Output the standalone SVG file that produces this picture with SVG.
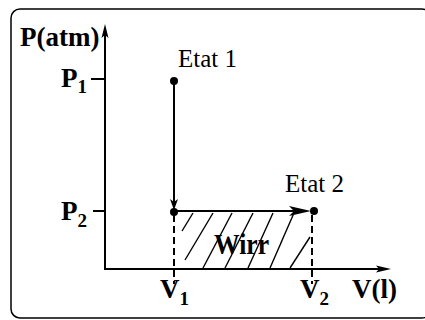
<svg xmlns="http://www.w3.org/2000/svg" width="425" height="320" viewBox="0 0 425 320">
<style>
.frame{fill:#fff;stroke:#000;stroke-width:1.5}
.ax{stroke:#000;stroke-width:2;fill:none}
.ln{stroke:#000;stroke-width:2;fill:none}
.dash{stroke:#000;stroke-width:2;fill:none;stroke-dasharray:7 4}
.hatch{stroke:#000;stroke-width:1.4;fill:none}
.head{fill:#000;stroke:none}
.pt{fill:#000}
.b{font-family:"Liberation Serif","Times New Roman",serif;font-weight:bold;font-size:27px;fill:#000}
.r{font-family:"Liberation Serif","Times New Roman",serif;font-size:25px;fill:#000}
.sub{font-size:19px}
.big{font-size:29px}
</style>
<rect class="frame" x="11" y="9" width="420" height="309" rx="9"/>
<g id="connectors">
  <line class="ax" x1="105" y1="269" x2="105" y2="30"/>
  <path class="head" d="M105,24 L108.5,38 L105,35 L101.5,38 Z"/>
  <line class="ax" x1="104" y1="269" x2="384" y2="269"/>
  <path class="head" d="M391,269 L376,265.5 L379,269 L376,272.5 Z"/>
  <line class="ax" x1="91" y1="79" x2="105" y2="79"/>
  <line class="ax" x1="93" y1="211" x2="105" y2="211"/>
  <line class="ln" x1="174" y1="81" x2="174" y2="205"/>
  <path class="head" d="M174,210 L178,199 L174,202 L170,199 Z"/>
  <line class="ln" x1="174" y1="211" x2="304" y2="211"/>
  <path class="head" d="M311,211 L289,206 L294,211 L289,216 Z"/>
  <line class="dash" x1="174" y1="215" x2="174" y2="284"/>
  <line class="dash" x1="312" y1="215" x2="312" y2="284"/>
  <g id="hatching">
    <line class="hatch" x1="182" y1="231" x2="193" y2="213"/>
    <line class="hatch" x1="185" y1="260" x2="213" y2="213"/>
    <line class="hatch" x1="203" y1="268" x2="232" y2="213"/>
    <line class="hatch" x1="225" y1="268" x2="253" y2="213"/>
    <line class="hatch" x1="248" y1="268" x2="273" y2="213"/>
    <line class="hatch" x1="270" y1="268" x2="294" y2="213"/>
    <line class="hatch" x1="290" y1="268" x2="310" y2="237"/>
  </g>
</g>
<g id="axis-p"><text class="b" x="20" y="46">P(atm)</text></g>
<g id="axis-v"><text class="b" x="352" y="298">V(l)</text></g>
<g id="p1"><text class="b" x="61" y="87">P<tspan class="sub" dy="6">1</tspan></text></g>
<g id="p2"><text class="b" x="61" y="220">P<tspan class="sub" dy="7">2</tspan></text></g>
<g id="v1"><text class="b" x="160" y="298">V<tspan class="sub" dy="7">1</tspan></text></g>
<g id="v2"><text class="b" x="300" y="298">V<tspan class="sub" dy="7">2</tspan></text></g>
<g id="etat1">
  <circle class="pt" cx="174" cy="81" r="4"/>
  <text class="r" x="178" y="67">Etat 1</text>
</g>
<g id="etat2">
  <circle class="pt" cx="314" cy="211" r="4"/>
  <text class="r" x="285" y="192">Etat 2</text>
</g>
<g id="mid"><circle class="pt" cx="174" cy="212" r="4"/></g>
<g id="wirr"><text class="b big" x="214" y="254" textLength="55" lengthAdjust="spacingAndGlyphs">Wirr</text></g>
</svg>
